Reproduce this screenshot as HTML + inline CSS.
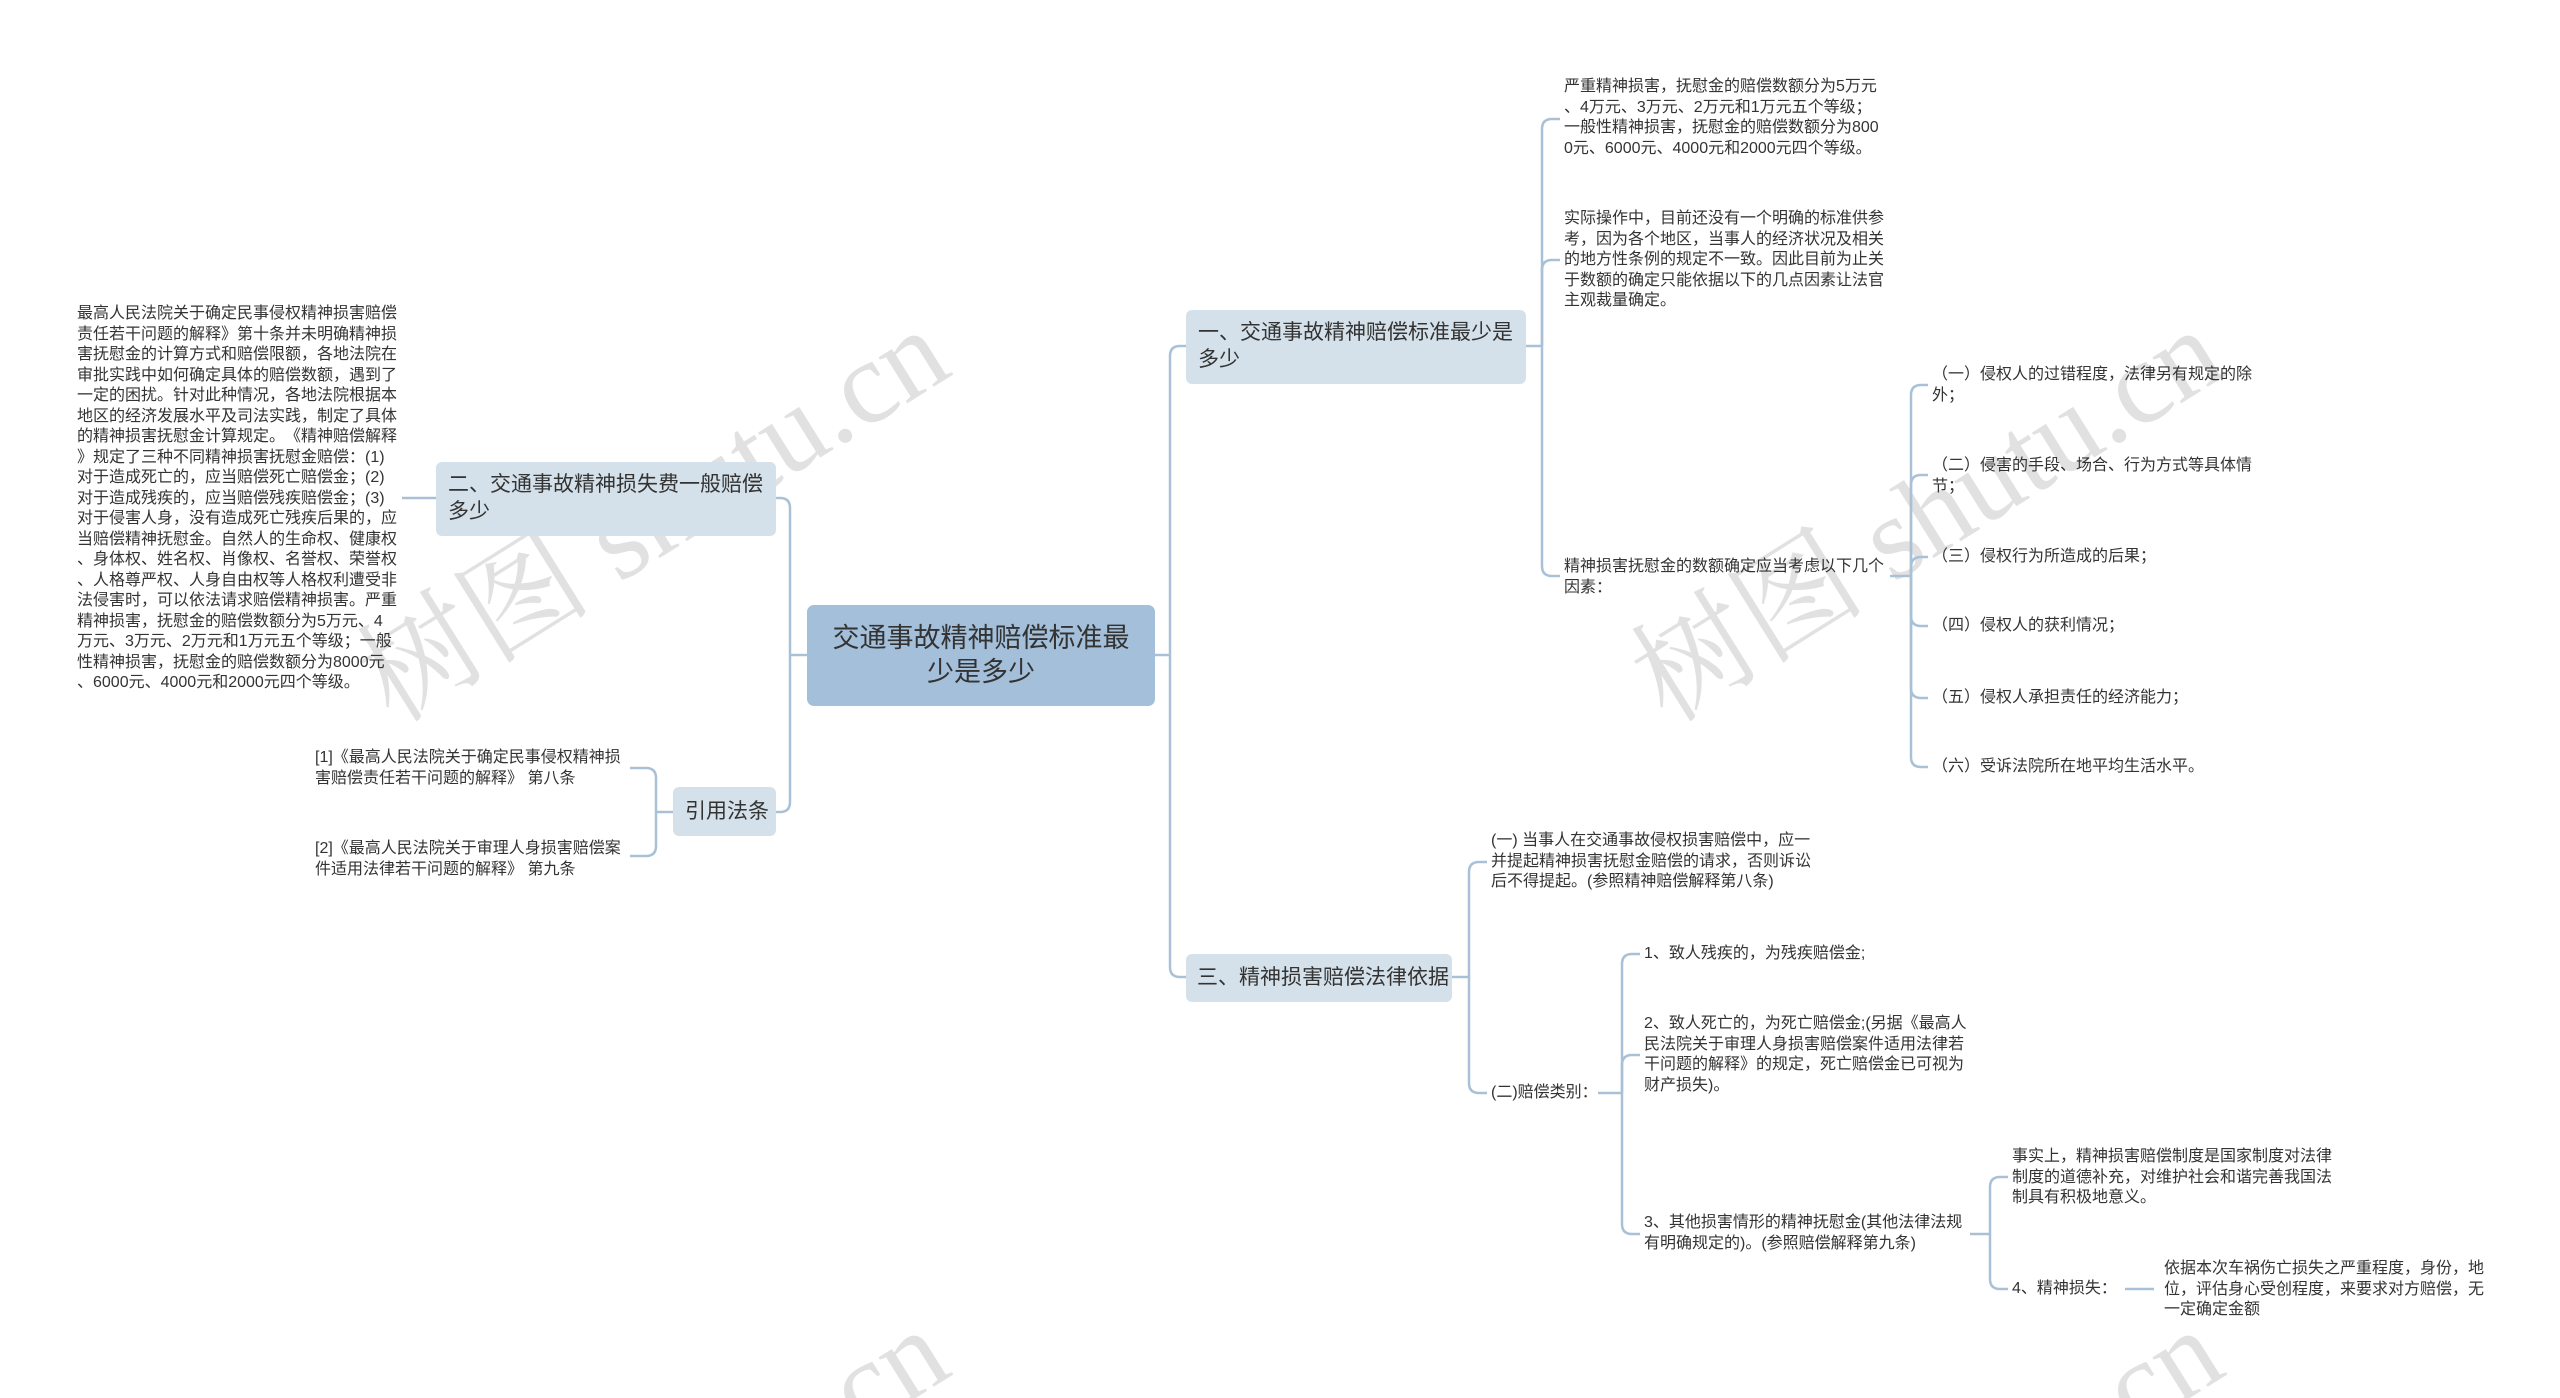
<!DOCTYPE html>
<html><head><meta charset="utf-8">
<style>
html,body{margin:0;padding:0;background:#fff;width:2560px;height:1398px;overflow:hidden;}
#wrap{width:2560px;height:1398px;position:relative;overflow:hidden;font-family:"Liberation Sans","Noto Sans CJK SC",sans-serif;color:#333;}
.t{position:absolute;font-size:16px;line-height:20.5px;color:#333;word-break:break-all;line-break:anywhere;text-spacing-trim:space-all;}
.box{position:absolute;background:#d5e1ea;border-radius:6px;box-sizing:border-box;font-size:21px;line-height:27px;color:#333;}
</style></head><body><div id="wrap">
<svg width="2560" height="1398" style="position:absolute;left:0;top:0;overflow:hidden">
<g font-family="Liberation Serif, Noto Serif CJK SC, serif" font-size="118" fill="rgba(120,120,120,0.22)" text-anchor="middle">
<text x="653" y="555" transform="rotate(-32 653 515)">树图 shutu.cn</text>
<text x="1927" y="555" transform="rotate(-32 1927 515)">树图 shutu.cn</text>
<text x="653" y="1555" transform="rotate(-32 653 1515)">树图 shutu.cn</text>
<text x="1927" y="1555" transform="rotate(-32 1927 1515)">树图 shutu.cn</text>
</g>
<g fill="none" stroke="#a9c1d6" stroke-width="2.5">
<path d="M1155 655 H1170"/>
<path d="M1170 655 V356 Q1170 346 1180 346 H1186"/>
<path d="M1170 655 V967 Q1170 977 1180 977 H1186"/>
<path d="M807 655 H790"/>
<path d="M790 655 V508 Q790 498 780 498 H776"/>
<path d="M790 655 V802 Q790 812 780 812 H776"/>
<path d="M436 498 H402"/>
<path d="M673 812 H656"/>
<path d="M656 812 V778 Q656 768 646 768 H630"/>
<path d="M656 812 V846 Q656 856 646 856 H630"/>
<path d="M1526 346 H1542"/>
<path d="M1542 346 V129 Q1542 119 1552 119 H1560"/>
<path d="M1542 346 V270 Q1542 260 1552 260 H1560"/>
<path d="M1542 346 V566 Q1542 576 1552 576 H1560"/>
<path d="M1890 576 H1911"/>
<path d="M1911 576 V395 Q1911 385 1921 385 H1928"/>
<path d="M1911 576 V485 Q1911 475 1921 475 H1928"/>
<path d="M1911 576 V567 Q1911 557 1921 557 H1928"/>
<path d="M1911 576 V616 Q1911 626 1921 626 H1928"/>
<path d="M1911 576 V688 Q1911 698 1921 698 H1928"/>
<path d="M1911 576 V757 Q1911 767 1921 767 H1928"/>
<path d="M1452 977 H1469"/>
<path d="M1469 977 V872 Q1469 862 1479 862 H1487"/>
<path d="M1469 977 V1083 Q1469 1093 1479 1093 H1487"/>
<path d="M1598 1093 H1622"/>
<path d="M1622 1093 V964 Q1622 954 1632 954 H1640"/>
<path d="M1622 1093 V1065 Q1622 1055 1632 1055 H1640"/>
<path d="M1622 1093 V1224 Q1622 1234 1632 1234 H1640"/>
<path d="M1970 1234 H1990"/>
<path d="M1990 1234 V1187 Q1990 1177 2000 1177 H2008"/>
<path d="M1990 1234 V1279 Q1990 1289 2000 1289 H2008"/>
<path d="M2125 1289 H2154"/>
</g>
</svg>

<div style="position:absolute;left:807px;top:605px;width:348px;height:101px;background:#a3bfd9;border-radius:7px;font-size:27px;line-height:34px;text-align:center;padding-top:16px;box-sizing:border-box;color:#333;">交通事故精神赔偿标准最<br>少是多少</div>

<div class="box" style="left:1186px;top:310px;width:340px;height:74px;padding:9px 12px;">一、交通事故精神赔偿标准最少是多少</div>
<div class="box" style="left:436px;top:462px;width:340px;height:74px;padding:9px 12px;">二、交通事故精神损失费一般赔偿多少</div>
<div class="box" style="left:673px;top:787px;width:103px;height:49px;padding:11px 0 0 12px;">引用法条</div>
<div class="box" style="left:1186px;top:954px;width:266px;height:48px;padding:10px 0 0 11px;">三、精神损害赔偿法律依据</div>

<div class="t" style="left:77px;top:304px;width:320px;">最高人民法院关于确定民事侵权精神损害赔偿责任若干问题的解释》第十条并未明确精神损害抚慰金的计算方式和赔偿限额，各地法院在审批实践中如何确定具体的赔偿数额，遇到了一定的困扰。针对此种情况，各地法院根据本地区的经济发展水平及司法实践，制定了具体的精神损害抚慰金计算规定。《精神赔偿解释》规定了三种不同精神损害抚慰金赔偿：(1)对于造成死亡的，应当赔偿死亡赔偿金；(2)对于造成残疾的，应当赔偿残疾赔偿金；(3)对于侵害人身，没有造成死亡残疾后果的，应当赔偿精神抚慰金。自然人的生命权、健康权、身体权、姓名权、肖像权、名誉权、荣誉权、人格尊严权、人身自由权等人格权利遭受非法侵害时，可以依法请求赔偿精神损害。严重精神损害，抚慰金的赔偿数额分为5万元、4万元、3万元、2万元和1万元五个等级；一般性精神损害，抚慰金的赔偿数额分为8000元、6000元、4000元和2000元四个等级。</div>

<div class="t" style="left:315px;top:748px;width:315px;">[1]《最高人民法院关于确定民事侵权精神损害赔偿责任若干问题的解释》 第八条</div>
<div class="t" style="left:315px;top:839px;width:315px;">[2]《最高人民法院关于审理人身损害赔偿案件适用法律若干问题的解释》 第九条</div>

<div class="t" style="left:1564px;top:77px;width:320px;">严重精神损害，抚慰金的赔偿数额分为5万元、4万元、3万元、2万元和1万元五个等级；一般性精神损害，抚慰金的赔偿数额分为8000元、6000元、4000元和2000元四个等级。</div>
<div class="t" style="left:1564px;top:209px;width:322px;">实际操作中，目前还没有一个明确的标准供参考，因为各个地区，当事人的经济状况及相关的地方性条例的规定不一致。因此目前为止关于数额的确定只能依据以下的几点因素让法官主观裁量确定。</div>
<div class="t" style="left:1564px;top:557px;width:325px;">精神损害抚慰金的数额确定应当考虑以下几个因素：</div>

<div class="t" style="left:1932px;top:365px;width:330px;">（一）侵权人的过错程度，法律另有规定的除外；</div>
<div class="t" style="left:1932px;top:456px;width:330px;">（二）侵害的手段、场合、行为方式等具体情节；</div>
<div class="t" style="left:1932px;top:547px;width:330px;">（三）侵权行为所造成的后果；</div>
<div class="t" style="left:1932px;top:616px;width:330px;">（四）侵权人的获利情况；</div>
<div class="t" style="left:1932px;top:688px;width:330px;">（五）侵权人承担责任的经济能力；</div>
<div class="t" style="left:1932px;top:757px;width:330px;">（六）受诉法院所在地平均生活水平。</div>

<div class="t" style="left:1491px;top:831px;width:320px;">(一) 当事人在交通事故侵权损害赔偿中，应一并提起精神损害抚慰金赔偿的请求，否则诉讼后不得提起。(参照精神赔偿解释第八条)</div>
<div class="t" style="left:1491px;top:1083px;width:120px;">(二)赔偿类别：</div>
<div class="t" style="left:1644px;top:944px;width:325px;">1、致人残疾的，为残疾赔偿金;</div>
<div class="t" style="left:1644px;top:1014px;width:325px;">2、致人死亡的，为死亡赔偿金;(另据《最高人民法院关于审理人身损害赔偿案件适用法律若干问题的解释》的规定，死亡赔偿金已可视为财产损失)。</div>
<div class="t" style="left:1644px;top:1213px;width:325px;">3、其他损害情形的精神抚慰金(其他法律法规有明确规定的)。(参照赔偿解释第九条)</div>
<div class="t" style="left:2012px;top:1147px;width:325px;">事实上，精神损害赔偿制度是国家制度对法律制度的道德补充，对维护社会和谐完善我国法制具有积极地意义。</div>
<div class="t" style="left:2012px;top:1279px;width:120px;">4、精神损失：</div>
<div class="t" style="left:2164px;top:1259px;width:330px;">依据本次车祸伤亡损失之严重程度，身份，地位，评估身心受创程度，来要求对方赔偿，无一定确定金额</div>
</div></body></html>
